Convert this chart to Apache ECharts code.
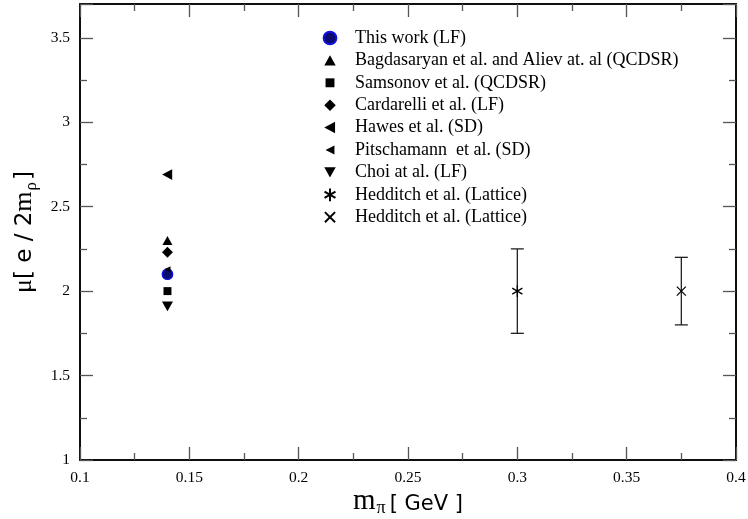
<!DOCTYPE html>
<html><head><meta charset="utf-8">
<script src="https://cdn.jsdelivr.net/npm/echarts@6/dist/echarts.min.js"></script>
<style>html,body{margin:0;padding:0;background:#fff}#c{width:748px;height:519px}</style>
</head><body><div id="c"></div>
<script>
// ---- data ----
const seriesNames = [
  'This work (LF)',
  'Bagdasaryan et al. and Aliev at. al (QCDSR)',
  'Samsonov et al. (QCDSR)',
  'Cardarelli et al. (LF)',
  'Hawes et al. (SD)',
  'Pitschamann  et al. (SD)',
  'Choi at al. (LF)',
  'Hedditch et al. (Lattice)',
  'Hedditch et al. (Lattice) '
];
const xValues = [0.14, 0.14, 0.14, 0.14, 0.14, 0.14, 0.14, 0.30, 0.375];
const yValues = [2.10, 2.30, 2.00, 2.23, 2.69, 2.13, 1.91, 2.00, 2.00];
const errLow  = [null, null, null, null, null, null, null, 1.75, 1.80];
const errHigh = [null, null, null, null, null, null, null, 2.25, 2.20];

// symbols drawn in an 11x11 box (padded so legend icons keep relative sizes)
const B = 'M0,0M11,11';
const markerStyles = [
  {symbol:'path://' + B + 'M0.5,5.5A5,5,0,1,1,10.5,5.5A5,5,0,1,1,0.5,5.5Z', size:11.5, color:'#0b0b70', border:'#1010e0', bw:1.3},
  {symbol:'path://' + B + 'M1,9.5L10,9.5L5.5,1.5Z', size:12.2, color:'#000', border:'#000', bw:0},
  {symbol:'path://' + B + 'M2,2L9,2L9,9L2,9Z', size:12.5, color:'#000', border:'#000', bw:0},
  {symbol:'path://' + B + 'M5.5,1L10,5.5L5.5,10L1,5.5Z', size:13.4, color:'#000', border:'#000', bw:0},
  {symbol:'path://' + B + 'M1,5.5L9.5,1L9.5,10Z', size:13, color:'#000', border:'#000', bw:0},
  {symbol:'path://' + B + 'M2,5.5L9,2L9,9Z', size:9.5, color:'#000', border:'#000', bw:0},
  {symbol:'path://' + B + 'M1,1.5L10,1.5L5.5,9.5Z', size:13.4, color:'#000', border:'#000', bw:0},
  {symbol:'path://' + B + 'M5.5,0.5L5.5,10.5M1.2,3L9.8,8M1.2,8L9.8,3', size:13, color:'transparent', border:'#000', bw:1.3},
  {symbol:'path://' + B + 'M1.5,1.5L9.5,9.5M1.5,9.5L9.5,1.5', size:12.4, color:'transparent', border:'#000', bw:1.2}
];

const serif = 'Liberation Serif';
const sans = 'DejaVu Sans';
const series = seriesNames.map((n, i) => ({
  name: n, type: 'scatter', xAxisIndex: 0, yAxisIndex: 0,
  data: [[xValues[i], yValues[i]]],
  symbol: markerStyles[i].symbol,
  symbolSize: markerStyles[i].size,
  itemStyle: {color: markerStyles[i].color, borderColor: markerStyles[i].border, borderWidth: markerStyles[i].bw, opacity: 1},
  emphasis: {disabled: true},
  z: 5
}));

const errData = [];
for (let i = 0; i < xValues.length; i++) {
  if (errLow[i] != null) errData.push([xValues[i], yValues[i], errLow[i], errHigh[i]]);
}
series.push({
  type: 'custom', xAxisIndex: 0, yAxisIndex: 0, data: errData, z: 3, silent: true,
  encode: {x: 0, y: [2, 3]},
  renderItem: function (params, api) {
    const x = api.value(0);
    const lo = api.coord([x, api.value(2)]);
    const hi = api.coord([x, api.value(3)]);
    const hw = 6.5;
    const st = {stroke: '#222', lineWidth: 1.3};
    return {type: 'group', children: [
      {type: 'line', shape: {x1: lo[0], y1: lo[1], x2: hi[0], y2: hi[1]}, style: st},
      {type: 'line', shape: {x1: lo[0]-hw, y1: lo[1], x2: lo[0]+hw, y2: lo[1]}, style: st},
      {type: 'line', shape: {x1: hi[0]-hw, y1: hi[1], x2: hi[0]+hw, y2: hi[1]}, style: st}
    ]};
  }
});

const chart = echarts.init(document.getElementById('c'), null, {renderer: 'canvas'});
const tickStyle = {show: true, inside: true, length: 13, lineStyle: {color: '#555', width: 1.3}};
const minorStyle = {show: true, splitNumber: 2, length: 7, lineStyle: {color: '#555', width: 1.3}};
chart.setOption({
  animation: false,
  backgroundColor: '#fff',
  grid: {left: 80, right: 12, top: 4, bottom: 59, containLabel: false, outerBoundsMode: 'none',
         show: true, borderColor: '#000', borderWidth: 1.5, backgroundColor: 'transparent'},
  legend: {
    orient: 'vertical', left: 317, top: 24, itemWidth: 14, itemHeight: 14, itemGap: 4.4,
    selectedMode: false,
    data: seriesNames,
    textStyle: {fontFamily: serif, fontSize: 18, color: '#000', lineHeight: 18, padding: [0, 0, 0, 13]}
  },
  xAxis: [{
    type: 'value', min: 0.1, max: 0.4, interval: 0.05, position: 'bottom',
    axisLine: {show: true, onZero: false, lineStyle: {color: '#000', width: 1.5}},
    axisTick: tickStyle, minorTick: minorStyle, splitLine: {show: false},
    axisLabel: {fontFamily: serif, fontSize: 15.5, color: '#000', margin: 10, formatter: v => String(+v.toFixed(3))},
    name: '{m|m}{s|π}{b|[ GeV ]}', nameLocation: 'middle', nameGap: 25, nameMoveOverlap: false,
    nameTextStyle: {rich: {
      m: {fontFamily: serif, fontSize: 29, color: '#000'},
      s: {fontFamily: serif, fontSize: 18, color: '#000', padding: [14, 4, 0, 1]},
      b: {fontFamily: sans, fontSize: 21, color: '#000', padding: [8, 0, 0, 0]}
    }}
  }, {
    type: 'value', min: 0.1, max: 0.4, interval: 0.05, position: 'top',
    axisLine: {show: true, onZero: false, lineStyle: {color: '#000', width: 1.5}},
    axisTick: tickStyle, minorTick: minorStyle, splitLine: {show: false}, axisLabel: {show: false}
  }],
  yAxis: [{
    type: 'value', min: 1, max: 3.7, interval: 0.5, position: 'left',
    axisLine: {show: true, onZero: false, lineStyle: {color: '#000', width: 1.5}},
    axisTick: tickStyle, minorTick: minorStyle, splitLine: {show: false},
    axisLabel: {fontFamily: serif, fontSize: 15.5, color: '#000', margin: 10, showMaxLabel: false},
    name: '{m|μ}{b|[ e / 2}{m|m}{s|ρ}{b|]}', nameLocation: 'middle', nameGap: 40, nameMoveOverlap: false,
    nameTextStyle: {rich: {
      m: {fontFamily: serif, fontSize: 26, color: '#000'},
      s: {fontFamily: serif, fontSize: 17, color: '#000', padding: [14, 2, 0, 1]},
      b: {fontFamily: sans, fontSize: 23, color: '#000', padding: [2, 0, 0, 0]}
    }}
  }, {
    type: 'value', min: 1, max: 3.7, interval: 0.5, position: 'right',
    axisLine: {show: true, onZero: false, lineStyle: {color: '#000', width: 1.5}},
    axisTick: tickStyle, minorTick: minorStyle, splitLine: {show: false}, axisLabel: {show: false}
  }],
  series: series
});
</script>
</body></html>
